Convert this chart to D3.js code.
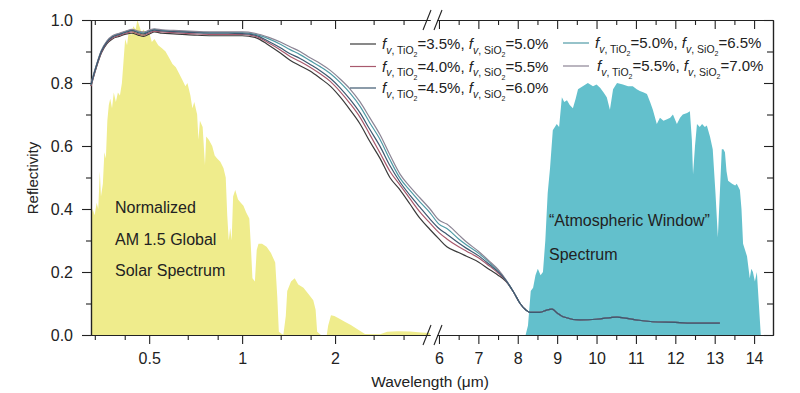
<!DOCTYPE html>
<html>
<head>
<meta charset="utf-8">
<script src="https://cdn.jsdelivr.net/npm/d3@7"></script>
<style>
  body { margin: 0; background: #fff; }
  text { font-family: "Liberation Sans", Arial, sans-serif; fill: #222; }
</style>
</head>
<body>
<script>
// solar spectrum (normalized AM 1.5 global), left log segment
const solarWl = [0.324,0.328,0.333,0.338,0.342,0.346,0.349,0.354,0.358,0.362,0.366,0.370,0.374,0.379,0.384,0.390,0.396,0.402,0.408,0.413,0.418,0.424,0.430,0.437,0.444,0.452,0.458,0.465,0.472,0.480,0.490,0.500,0.510,0.520,0.535,0.550,0.565,0.580,0.595,0.610,0.625,0.640,0.655,0.665,0.680,0.690,0.700,0.715,0.722,0.730,0.745,0.758,0.765,0.780,0.800,0.815,0.830,0.850,0.870,0.885,0.895,0.905,0.915,0.925,0.935,0.950,0.970,0.990,1.010,1.030,1.055,1.065,1.080,1.100,1.115,1.130,1.160,1.200,1.240,1.280,1.300,1.315,1.360,1.385,1.400,1.440,1.480,1.520,1.580,1.640,1.700,1.730,1.750,1.800,1.880,1.900,1.940,1.990,2.060,2.150,2.250,2.350,2.420,2.500,2.800,2.950,3.200,3.500,3.800,4.060]
const solarVal = [0.37,0.40,0.38,0.42,0.40,0.52,0.44,0.48,0.58,0.56,0.68,0.73,0.75,0.72,0.77,0.74,0.77,0.76,0.80,0.87,0.94,0.92,0.97,0.95,0.98,0.97,1.00,0.98,0.96,0.97,0.95,0.96,0.93,0.94,0.92,0.91,0.90,0.88,0.86,0.85,0.83,0.81,0.79,0.80,0.76,0.72,0.74,0.70,0.62,0.68,0.66,0.54,0.63,0.62,0.60,0.57,0.56,0.55,0.53,0.50,0.38,0.30,0.34,0.30,0.44,0.46,0.43,0.42,0.41,0.39,0.37,0.30,0.18,0.17,0.27,0.29,0.29,0.28,0.26,0.23,0.12,0.01,0.0,0.06,0.14,0.17,0.18,0.16,0.15,0.13,0.11,0.08,0.01,0.0,0.0,0.03,0.063,0.06,0.052,0.042,0.032,0.02,0.012,0.003,0.002,0.01,0.012,0.011,0.008,0.006]

// atmospheric window spectrum, right linear segment
const atmWl = [8.20,8.26,8.33,8.39,8.45,8.51,8.58,8.64,8.70,8.76,8.82,8.89,8.99,9.05,9.12,9.18,9.25,9.32,9.40,9.47,9.53,9.65,9.78,9.91,10.00,10.09,10.18,10.26,10.34,10.42,10.52,10.67,10.80,10.92,11.02,11.10,11.20,11.28,11.36,11.43,11.53,11.61,11.70,11.79,11.87,11.94,12.04,12.12,12.19,12.30,12.37,12.42,12.45,12.50,12.55,12.62,12.68,12.75,12.80,12.88,12.95,13.02,13.08,13.13,13.18,13.22,13.26,13.30,13.34,13.44,13.52,13.56,13.64,13.68,13.72,13.82,13.89,13.93,13.97,14.02,14.07,14.12,14.17]
const atmVal = [0.0,0.03,0.14,0.15,0.19,0.21,0.19,0.20,0.30,0.45,0.53,0.65,0.67,0.66,0.755,0.74,0.745,0.73,0.72,0.75,0.78,0.79,0.80,0.79,0.795,0.785,0.77,0.755,0.715,0.78,0.80,0.795,0.79,0.79,0.78,0.775,0.77,0.765,0.74,0.715,0.67,0.69,0.68,0.685,0.69,0.70,0.67,0.69,0.70,0.705,0.71,0.62,0.51,0.60,0.67,0.66,0.67,0.66,0.665,0.63,0.59,0.45,0.31,0.45,0.59,0.59,0.58,0.52,0.49,0.48,0.475,0.48,0.46,0.40,0.29,0.25,0.18,0.21,0.20,0.17,0.20,0.10,0.0]

// reflectivity curves
const reflWl = [0.324,0.335,0.35,0.365,0.38,0.40,0.42,0.44,0.46,0.48,0.50,0.52,0.55,0.60,0.70,0.80,0.90,1.00,1.10,1.22,1.33,1.43,1.54,1.66,1.79,1.93,2.08,2.24,2.41,2.59,2.80,3.01,3.25,3.50,3.77,4.06,
  6.0,6.2,6.5,6.7,7.0,7.3,7.5,7.7,7.9,8.06,8.2,8.31,8.56,8.75,8.87,9.0,9.15,9.58,10.0,10.52,11.0,11.43,12.0,12.3,12.7,13.13]
const refl35 = [0.79,0.84,0.895,0.925,0.94,0.948,0.955,0.958,0.952,0.948,0.955,0.962,0.958,0.956,0.952,0.950,0.950,0.950,0.945,0.92,0.895,0.872,0.855,0.838,0.815,0.79,0.755,0.714,0.67,0.615,0.56,0.50,0.46,0.415,0.37,0.335,
  0.305,0.28,0.262,0.25,0.232,0.206,0.19,0.17,0.135,0.10,0.08,0.072,0.072,0.08,0.082,0.07,0.058,0.048,0.05,0.057,0.048,0.042,0.04,0.038,0.038,0.038]
const refl40 = [0.79,0.842,0.897,0.928,0.943,0.951,0.958,0.962,0.956,0.952,0.959,0.965,0.962,0.96,0.956,0.954,0.954,0.954,0.949,0.927,0.905,0.884,0.868,0.85,0.829,0.805,0.772,0.734,0.691,0.637,0.577,0.52,0.475,0.432,0.39,0.355,
  0.325,0.305,0.28,0.266,0.245,0.217,0.197,0.172,0.135,0.10,0.08,0.072,0.072,0.08,0.082,0.07,0.058,0.048,0.05,0.057,0.048,0.042,0.04,0.038,0.038,0.038]
const refl45 = [0.795,0.845,0.90,0.93,0.946,0.954,0.961,0.966,0.96,0.956,0.963,0.968,0.965,0.963,0.96,0.958,0.958,0.957,0.952,0.932,0.912,0.893,0.878,0.859,0.839,0.815,0.784,0.747,0.705,0.653,0.598,0.538,0.485,0.443,0.405,0.368,
  0.338,0.32,0.292,0.275,0.252,0.222,0.201,0.173,0.135,0.10,0.08,0.072,0.072,0.08,0.082,0.07,0.058,0.048,0.05,0.057,0.048,0.042,0.04,0.038,0.038,0.038]
const refl50 = [0.795,0.846,0.902,0.932,0.948,0.956,0.963,0.968,0.963,0.959,0.966,0.97,0.967,0.965,0.962,0.96,0.96,0.96,0.955,0.94,0.923,0.906,0.89,0.871,0.852,0.83,0.801,0.767,0.726,0.674,0.62,0.557,0.497,0.458,0.422,0.388,
  0.352,0.338,0.305,0.286,0.26,0.228,0.205,0.174,0.135,0.10,0.08,0.072,0.072,0.08,0.082,0.07,0.058,0.048,0.05,0.057,0.048,0.042,0.04,0.038,0.038,0.038]
const refl55 = [0.80,0.848,0.903,0.934,0.95,0.958,0.965,0.97,0.965,0.962,0.968,0.972,0.969,0.967,0.964,0.962,0.962,0.962,0.958,0.945,0.93,0.915,0.90,0.88,0.862,0.84,0.812,0.78,0.74,0.69,0.635,0.572,0.51,0.47,0.435,0.40,
  0.365,0.352,0.318,0.295,0.266,0.232,0.208,0.175,0.135,0.10,0.08,0.072,0.072,0.08,0.082,0.07,0.058,0.048,0.05,0.057,0.048,0.042,0.04,0.038,0.038,0.038]

const seriesNames = ["3.5%/5.0%", "4.0%/5.5%", "4.5%/6.0%", "5.0%/6.5%", "5.5%/7.0%"]
const seriesColors = ["#3a3a3a", "#a8596d", "#3d5870", "#4f9ba6", "#8b8494"]
const tio2Labels = ["3.5%", "4.0%", "4.5%", "5.0%", "5.5%"]
const sio2Labels = ["5.0%", "5.5%", "6.0%", "6.5%", "7.0%"]

const leftMajor = [0.5, 1, 2]
const leftMinor = [1/3, 5/12, 2/3, 5/6, 4/3, 5/3, 8/3, 10/3]
const rightMajor = [6, 7, 8, 9, 10, 11, 12, 13, 14]
const rightMinor = [6.5, 7.5, 8.5, 9.5, 10.5, 11.5, 12.5, 13.5]
const yMajor = [0, 0.2, 0.4, 0.6, 0.8, 1.0]
const yMinor = [0.1, 0.3, 0.5, 0.7, 0.9]

const W = 800, H = 393
const top_ = 20, bottom = 335

const xLeft = d3.scaleLog().domain([0.324, 4.06]).range([91, 430])
const xRight = d3.scaleLinear().domain([5.95, 14.48]).range([437, 773])
const y = d3.scaleLinear().domain([0, 1]).range([bottom, top_])

function xPos(l) {
    return l < 5 ? xLeft(l) : xRight(l)
}

const svg = d3.select("body").append("svg")
    .attr("width", W).attr("height", H)

svg.append("rect").attr("width", W).attr("height", H).attr("fill", "#fff")

// spectra fills
const solarData = solarWl.map((d, i) => [d, solarVal[i]])
const atmData = atmWl.map((d, i) => [d, atmVal[i]])

svg.append("path")
    .datum(solarData)
    .attr("fill", "#efec8c")
    .attr("d", d3.area().x(d => xLeft(d[0])).y0(y(0)).y1(d => y(d[1])))

svg.append("path")
    .datum(atmData)
    .attr("fill", "#63c0cc")
    .attr("d", d3.area().x(d => xRight(d[0])).y0(y(0)).y1(d => y(d[1])))

// labels in the fills
const solarLbl = svg.append("text").attr("font-size", 16)
;["Normalized", "AM 1.5 Global", "Solar Spectrum"].forEach((t, i) => {
    solarLbl.append("tspan").attr("x", 115).attr("y", 213 + i * 31.5).text(t)
})
const atmLbl = svg.append("text").attr("font-size", 16)
;["\u201CAtmospheric Window\u201D", "Spectrum"].forEach((t, i) => {
    atmLbl.append("tspan").attr("x", 549).attr("y", 226 + i * 34).text(t)
})

// axes
function styleAxis(g) {
    g.selectAll("path.domain").attr("stroke", "#222").attr("stroke-width", 1.2)
    g.selectAll(".tick line").attr("stroke", "#222").attr("stroke-width", 1.1)
    g.selectAll(".tick text").attr("fill", "#222").attr("font-size", 16)
        .attr("font-family", "'Liberation Sans', Arial, sans-serif")
}

const fmtL = d => d3.format("")(d)

// bottom
svg.append("g").attr("transform", `translate(0,${bottom})`)
    .call(d3.axisBottom(xLeft).tickValues(leftMajor).tickFormat(fmtL).tickSize(9).tickPadding(9).tickSizeOuter(0))
    .call(styleAxis)
svg.append("g").attr("transform", `translate(0,${bottom})`)
    .call(d3.axisBottom(xLeft).tickValues(leftMinor).tickFormat("").tickSize(5).tickSizeOuter(0))
    .call(styleAxis)
svg.append("g").attr("transform", `translate(0,${bottom})`)
    .call(d3.axisBottom(xRight).tickValues(rightMajor).tickFormat(d3.format("d")).tickSize(9).tickPadding(9).tickSizeOuter(0))
    .call(styleAxis)
svg.append("g").attr("transform", `translate(0,${bottom})`)
    .call(d3.axisBottom(xRight).tickValues(rightMinor).tickFormat("").tickSize(5).tickSizeOuter(0))
    .call(styleAxis)

// top (ticks inward)
svg.append("g").attr("transform", `translate(0,${top_})`)
    .call(d3.axisTop(xLeft).tickValues(leftMajor).tickFormat("").tickSize(-9).tickSizeOuter(0))
    .call(styleAxis)
svg.append("g").attr("transform", `translate(0,${top_})`)
    .call(d3.axisTop(xLeft).tickValues(leftMinor).tickFormat("").tickSize(-5).tickSizeOuter(0))
    .call(styleAxis)
svg.append("g").attr("transform", `translate(0,${top_})`)
    .call(d3.axisTop(xRight).tickValues(rightMajor).tickFormat("").tickSize(-9).tickSizeOuter(0))
    .call(styleAxis)
svg.append("g").attr("transform", `translate(0,${top_})`)
    .call(d3.axisTop(xRight).tickValues(rightMinor).tickFormat("").tickSize(-5).tickSizeOuter(0))
    .call(styleAxis)

// left
svg.append("g").attr("transform", `translate(91,0)`)
    .call(d3.axisLeft(y).tickValues(yMajor).tickFormat(d3.format(".1f")).tickSize(9).tickPadding(9).tickSizeOuter(0))
    .call(styleAxis)
svg.append("g").attr("transform", `translate(91,0)`)
    .call(d3.axisLeft(y).tickValues(yMinor).tickFormat("").tickSize(5).tickSizeOuter(0))
    .call(styleAxis)

// right (ticks inward)
svg.append("g").attr("transform", `translate(773,0)`)
    .call(d3.axisRight(y).tickValues(yMajor).tickFormat("").tickSize(-9).tickSizeOuter(0))
    .call(styleAxis)
svg.append("g").attr("transform", `translate(773,0)`)
    .call(d3.axisRight(y).tickValues(yMinor).tickFormat("").tickSize(-6).tickSizeOuter(0))
    .call(styleAxis)

// axis breaks
const brk = [xLeft.range()[1] - 3, xRight.range()[0] + 1]
;[top_, bottom].forEach(yy => {
    brk.forEach(bx => {
        svg.append("line")
            .attr("x1", bx - 4).attr("y1", yy + 10)
            .attr("x2", bx + 4).attr("y2", yy - 10)
            .attr("stroke", "#222").attr("stroke-width", 1.1)
    })
})

// axis titles
svg.append("text")
    .attr("x", 430).attr("y", 387)
    .attr("text-anchor", "middle")
    .attr("font-size", 15.5)
    .text("Wavelength (\u03BCm)")

svg.append("text")
    .attr("transform", "translate(38,178) rotate(-90)")
    .attr("text-anchor", "middle")
    .attr("font-size", 15)
    .text("Reflectivity")

// reflectivity curves
const allRefl = [refl35, refl40, refl45, refl50, refl55]
const line = d3.line().x(d => xPos(d[0])).y(d => y(d[1])).curve(d3.curveMonotoneX)
const drawOrder = [0, 1, 3, 4, 2]
drawOrder.forEach(k => {
    svg.append("path")
        .datum(reflWl.map((w, i) => [w, allRefl[k][i]]))
        .attr("fill", "none")
        .attr("stroke", seriesColors[k])
        .attr("stroke-width", 1.2)
        .attr("d", line)
})

// legend
const legPos = [
    [350, 44], [350, 66.5], [350, 88],
    [563, 43], [563, 66]
]
legPos.forEach((p, k) => {
    const g = svg.append("g")
    g.append("line")
        .attr("x1", p[0]).attr("x2", p[0] + 26)
        .attr("y1", p[1]).attr("y2", p[1])
        .attr("stroke", seriesColors[k]).attr("stroke-width", 1.2)
    const t = g.append("text")
        .attr("x", p[0] + 32 + (k === 4 ? 2 : 0)).attr("y", p[1] + 5)
        .attr("font-size", 15)
    const sub = (name) => {
        t.append("tspan").attr("font-style", "italic").text("f")
        t.append("tspan").attr("font-size", 10.5).attr("dy", 4.5).attr("font-style", "italic").text("v")
        t.append("tspan").attr("font-size", 10.5).text(", " + name + "O")
        t.append("tspan").attr("font-size", 7).attr("dy", 3.5).text("2")
    }
    sub("Ti")
    t.append("tspan").attr("dy", -8).text("=" + tio2Labels[k] + ", ")
    sub("Si")
    t.append("tspan").attr("dy", -8).text("=" + sio2Labels[k])
})
</script>
</body>
</html>
